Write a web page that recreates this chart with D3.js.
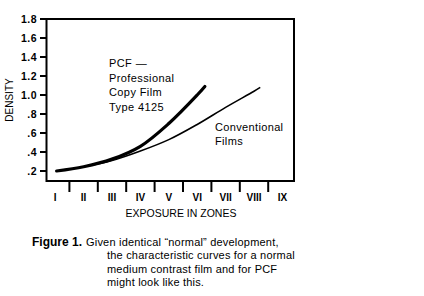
<!DOCTYPE html>
<html>
<head>
<meta charset="utf-8">
<script src="https://cdn.jsdelivr.net/npm/d3@7"></script>
<style>
  body { margin: 0; background: #fff; }
  text { font-family: "Liberation Sans", Arial, sans-serif; }
</style>
</head>
<body>
<script>
      var w = 424;
      var h = 296;

      // zones on the x axis, density on the y axis
      var zones = ["I", "II", "III", "IV", "V", "VI", "VII", "VIII", "IX"];
      var densityTicks = [0.2, 0.4, 0.6, 0.8, 1.0, 1.2, 1.4, 1.6, 1.8];
      var pcfZone = [1.05, 2, 3, 4, 5, 6, 6.27];
      var pcfDensity = [0.2, 0.245, 0.325, 0.46, 0.7, 1.0, 1.09];
      var convZone = [1.05, 2, 3, 4, 5, 6, 7, 8, 8.22];
      var convDensity = [0.2, 0.245, 0.31, 0.41, 0.53, 0.69, 0.87, 1.04, 1.08];

      var boxLeft = 46.5, boxRight = 294, boxTop = 19, boxBottom = 181;

      var svg = d3.select("body")
                  .append("svg")
                  .attr("width", w)
                  .attr("height", h);

      var x = d3.scaleLinear().domain([0.5, 9.5]).range([41, 296.6]);
      var y = d3.scaleLinear().domain([0, 1.8]).range([190, boxTop]);

      // box
      svg.append("path")
         .attr("d", "M" + boxLeft + "," + boxTop + "H" + boxRight + "V" + boxBottom + "H" + boxLeft + "Z")
         .attr("fill", "none")
         .attr("stroke", "black")
         .attr("stroke-width", 2);

      // y ticks
      svg.selectAll(".yt")
         .data(densityTicks)
         .enter()
         .append("line")
         .attr("class", "yt")
         .attr("x1", 40)
         .attr("x2", boxLeft)
         .attr("y1", function(d){return y(d);})
         .attr("y2", function(d){return y(d);})
         .attr("stroke", "black")
         .attr("stroke-width", 2);

      svg.selectAll(".yl")
         .data(densityTicks)
         .enter()
         .append("text")
         .attr("class", "yl")
         .text(function(d){return d >= 1 ? d.toFixed(1) : d.toFixed(1).slice(1);})
         .attr("x", 37)
         .attr("y", function(d){return y(d) + 3.5;})
         .attr("text-anchor", "end")
         .attr("font-size", "10.5px")
         .attr("letter-spacing", "0.5px")
         .attr("font-weight", "bold");

      // x ticks between zones
      svg.selectAll(".xt")
         .data(zones.slice(1))
         .enter()
         .append("line")
         .attr("class", "xt")
         .attr("x1", function(d,i){return x(i + 1.5);})
         .attr("x2", function(d,i){return x(i + 1.5);})
         .attr("y1", boxBottom)
         .attr("y2", 192)
         .attr("stroke", "black")
         .attr("stroke-width", 2);

      svg.selectAll(".xl")
         .data(zones)
         .enter()
         .append("text")
         .attr("class", "xl")
         .text(function(d){return d;})
         .attr("x", function(d,i){return x(i + 1);})
         .attr("y", 201)
         .attr("text-anchor", "middle")
         .attr("font-size", "10px")
         .attr("font-weight", "bold");

      svg.append("text")
         .text("EXPOSURE IN ZONES")
         .attr("x", 181)
         .attr("y", 217)
         .attr("text-anchor", "middle")
         .attr("font-size", "10.5px");

      svg.append("text")
         .text("DENSITY")
         .attr("transform", "translate(13,100) rotate(-90)")
         .attr("text-anchor", "middle")
         .attr("font-size", "10px");

      var line = d3.line()
                   .x(function(d){return x(d[0]);})
                   .y(function(d){return y(d[1]);})
                   .curve(d3.curveCatmullRom);

      svg.append("path")
         .attr("d", line(d3.zip(convZone, convDensity)))
         .attr("fill", "none")
         .attr("stroke", "black")
         .attr("stroke-width", 1.6);

      svg.append("path")
         .attr("d", line(d3.zip(pcfZone, pcfDensity)))
         .attr("fill", "none")
         .attr("stroke", "black")
         .attr("stroke-width", 3.2)
         .attr("stroke-linecap", "round");

      // curve labels
      var pcfLabel = ["PCF \u2014", "Professional", "Copy Film", "Type 4125"];
      svg.selectAll(".pl")
         .data(pcfLabel)
         .enter()
         .append("text")
         .attr("class", "pl")
         .text(function(d){return d;})
         .attr("x", 109)
         .attr("y", function(d,i){return 67 + i * 14.5;})
         .attr("font-size", "11px")
         .attr("letter-spacing", "0.4px");

      var convLabel = ["Conventional", "Films"];
      svg.selectAll(".cl")
         .data(convLabel)
         .enter()
         .append("text")
         .attr("class", "cl")
         .text(function(d){return d;})
         .attr("x", 215)
         .attr("y", function(d,i){return 131 + i * 14;})
         .attr("font-size", "11px")
         .attr("letter-spacing", "0.35px");

      // caption
      svg.append("text")
         .text("Figure 1.")
         .attr("x", 32)
         .attr("y", 246)
         .attr("font-size", "12px")
         .attr("font-weight", "bold");

      var caption = ["Given identical \u201cnormal\u201d development,",
                     "the characteristic curves for a normal",
                     "medium contrast film and for PCF",
                     "might look like this."];
      svg.selectAll(".cap")
         .data(caption)
         .enter()
         .append("text")
         .attr("class", "cap")
         .text(function(d){return d;})
         .attr("x", function(d,i){return i === 0 ? 86 : 107;})
         .attr("y", function(d,i){return 246 + i * 13.3;})
         .attr("font-size", "11px")
         .attr("letter-spacing", "0.2px");
</script>
</body>
</html>
